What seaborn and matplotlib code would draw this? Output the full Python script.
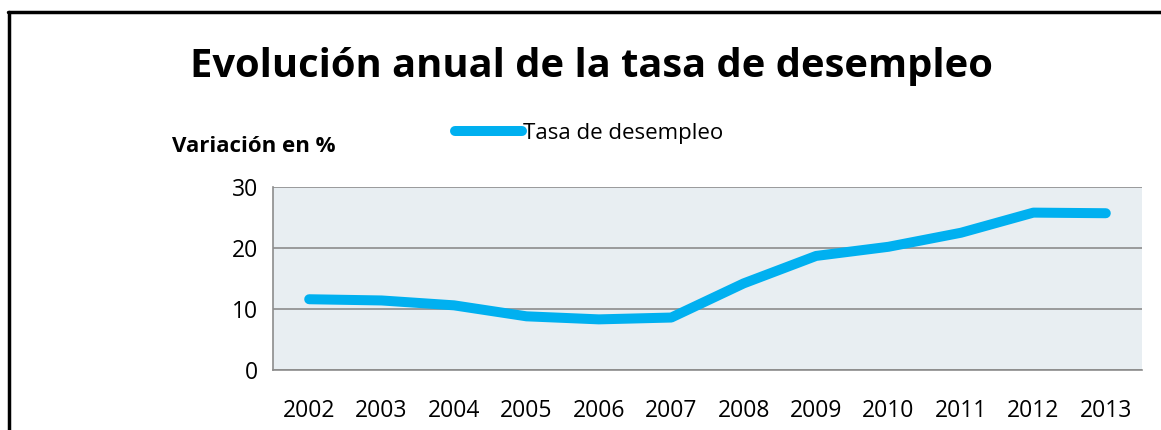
import matplotlib
matplotlib.use("Agg")
import matplotlib.pyplot as plt
import seaborn as sns
import pandas as pd
from matplotlib.lines import Line2D

years = ["2002", "2003", "2004", "2005", "2006", "2007",
         "2008", "2009", "2010", "2011", "2012", "2013"]
tasa = [11.6, 11.4, 10.6, 8.8, 8.3, 8.6, 14.2, 18.7, 20.2, 22.5, 25.8, 25.7]
series_name = "Tasa de desempleo"
title = "Evolución anual de la tasa de desempleo"
ylabel = "Variación en %"
yticks = [0, 10, 20, 30]

sns.set_theme(style="white")
plt.rcParams['font.family'] = ['Open Sans', 'DejaVu Sans']
plt.rcParams['text.color'] = 'black'
plt.rcParams['xtick.color'] = 'black'
plt.rcParams['ytick.color'] = 'black'

df = pd.DataFrame({"year": years, "tasa": tasa})

fig = plt.figure(figsize=(11.61, 4.30), dpi=100)
ax = fig.add_axes([273/1161, 1 - 370/430, (1142-273)/1161, (370-187)/430])
ax.set_facecolor("#E8EEF2")

sns.lineplot(data=df, x="year", y="tasa", ax=ax, color="#00B0F0",
             linewidth=7.2, solid_capstyle="round", solid_joinstyle="round",
             label=series_name, legend=False, sort=False)

ax.set_xlim(-0.5, len(years) - 0.5)
ax.set_ylim(0, 30)
ax.set_yticks(yticks)
ax.set_yticklabels([str(v) for v in yticks], fontsize=16.5, color="black")
ax.set_xticks(range(len(years)))
ax.set_xticklabels(years, fontsize=16.5, color="black")
ax.set_xticks([i - 0.5 for i in range(len(years) + 1)], minor=True)
ax.tick_params(axis="x", which="major", length=0, pad=21, labelcolor="black")
ax.tick_params(axis="x", which="minor", length=8, color="#8c8c8c", width=1.2, direction="out")
ax.tick_params(axis="y", which="major", length=8, color="#8c8c8c", width=1.2, direction="out",
               pad=3, labelcolor="black")
ax.set_xlabel("")
ax.set_ylabel("")
ax.yaxis.grid(True, color="#8c8c8c", linewidth=1.2)
ax.set_axisbelow(True)
for s in ["top", "right"]:
    ax.spines[s].set_visible(False)
for s in ["left", "bottom"]:
    ax.spines[s].set_color("#8c8c8c")
    ax.spines[s].set_linewidth(1.2)

fig.text(591/1161, 1 - 66/430, title, ha="center", va="center",
         fontsize=28.7, fontweight="bold", color="black")
fig.text(172/1161, 1 - 146/430, ylabel, ha="left", va="center",
         fontsize=16, fontweight="bold", color="black")

handle = Line2D([], [], color="#00B0F0", linewidth=7.2, solid_capstyle="round")
leg = fig.legend([handle], [series_name], loc="center left",
                 bbox_to_anchor=(455/1161, 1 - 133/430),
                 frameon=False, fontsize=16, handlelength=3.0, handletextpad=0.05,
                 borderaxespad=0, borderpad=0)
for t in leg.get_texts():
    t.set_color("black")

# outer frame (top and left edges visible)
fig.add_artist(Line2D([9/1161, 9/1161], [0, 1 - 12/430], transform=fig.transFigure,
                      color="black", linewidth=2.5))
fig.add_artist(Line2D([8/1161, 1], [1 - 12/430, 1 - 12/430], transform=fig.transFigure,
                      color="black", linewidth=2.5))

fig.savefig("out.png", dpi=100)
